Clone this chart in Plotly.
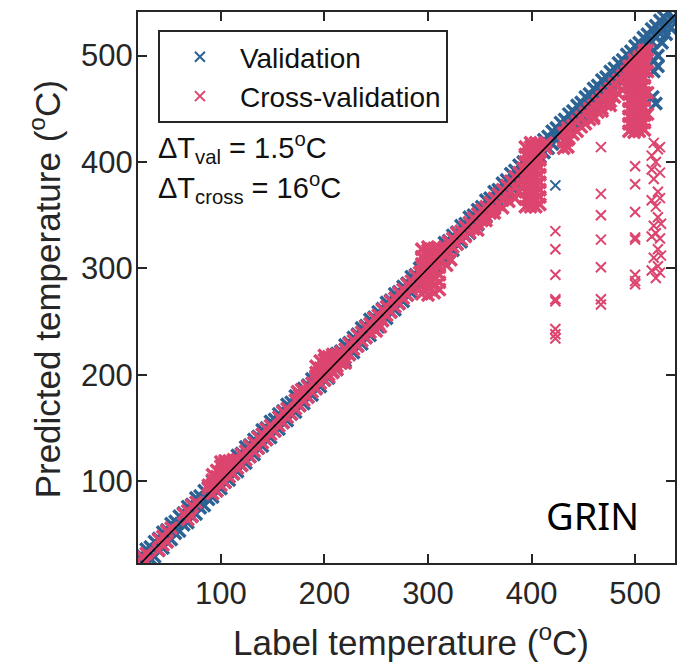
import plotly.graph_objects as go

# ---------------- data (label temperature -> predicted temperatures, °C) ----------------
# Validation: dense band along the diagonal
val_band = {
    20: [28, 13], 28: [36, 21], 36: [43, 29], 44: [52, 37], 52: [60, 45],
    60: [67, 53], 68: [76, 61], 76: [84, 69], 84: [91, 77], 92: [100, 85],
    100: [108, 93], 108: [115, 101], 116: [124, 109], 124: [132, 117], 132: [139, 125],
    140: [148, 133], 148: [156, 141], 156: [163, 149], 164: [172, 157], 172: [180, 165],
    180: [187, 173], 188: [196, 181], 196: [204, 189], 204: [211, 197], 212: [220, 205],
    220: [228, 213], 228: [235, 221], 236: [244, 229], 244: [252, 237], 252: [259, 245],
    260: [268, 253], 268: [276, 261], 276: [283, 269], 284: [292, 277], 292: [300, 285],
    300: [307, 293], 308: [316, 301], 316: [324, 309], 324: [331, 317], 332: [340, 325],
    340: [348, 333], 348: [355, 341], 356: [364, 349], 364: [372, 357], 372: [380, 366],
    380: [389, 377], 388: [397, 385], 396: [405, 393], 404: [413, 401], 412: [421, 409],
    420: [429, 417], 428: [437, 425], 436: [445, 433], 444: [453, 441], 452: [461, 449],
    460: [469, 457], 468: [477, 465], 476: [485, 473], 484: [493, 481], 492: [501, 489],
    500: [509, 497], 508: [517, 505], 516: [525, 513], 524: [533, 521], 532: [541, 529],
    538: [546, 535],
}
val_band_mid = {
    24: [30, 19], 32: [38, 27], 40: [46, 35], 48: [54, 43], 56: [62, 51],
    64: [70, 59], 72: [78, 67], 80: [86, 75], 88: [94, 83], 96: [102, 91],
    104: [110, 99], 112: [118, 107], 120: [126, 115], 128: [134, 123], 136: [142, 131],
    144: [150, 139], 152: [158, 147], 160: [166, 155], 168: [174, 163], 176: [182, 171],
    184: [190, 179], 192: [198, 187], 200: [206, 195], 208: [214, 203], 216: [222, 211],
    224: [230, 219], 232: [238, 227], 240: [246, 235], 248: [254, 243], 256: [262, 251],
    264: [270, 259], 272: [278, 267], 280: [286, 275], 288: [294, 283], 296: [302, 291],
    304: [310, 299], 312: [318, 307], 320: [326, 315], 328: [334, 323], 336: [342, 331],
    344: [350, 339], 352: [358, 347], 360: [366, 355], 368: [374, 363], 376: [383, 372],
    384: [392, 381], 392: [400, 389], 400: [408, 397], 408: [416, 405], 416: [424, 413],
    424: [432, 421], 432: [440, 429], 440: [448, 437], 448: [456, 445], 456: [464, 453],
    464: [472, 461], 472: [480, 469], 480: [488, 477], 488: [496, 485], 496: [504, 493],
    504: [512, 501], 512: [520, 509], 520: [528, 517], 528: [536, 525], 536: [544, 533],
}
val_top_right = {
    517: [461], 518: [505, 495, 485], 520: [455], 522: [500, 490],
    526: [512], 530: [520], 534: [526],
}
val_single = {423: [378]}

# Cross-validation: band along the diagonal
cv_band = {
    24: [29, 19], 40: [45, 35], 48: [53, 43], 64: [69], 72: [77, 67], 88: [93],
    96: [101, 91],
    104: [109, 99], 112: [117, 107], 120: [125, 115], 128: [133, 123], 136: [141, 131],
    144: [149, 139], 152: [147], 160: [165, 155], 168: [163], 176: [181, 171],
    184: [189, 179], 192: [197, 187], 200: [205, 195], 208: [213, 203], 216: [221, 211],
    224: [229, 219], 232: [237, 227], 240: [245, 235], 248: [253, 243], 256: [261, 251],
    264: [269, 259], 272: [277, 267], 280: [285, 275], 288: [293, 283], 296: [301, 291],
    304: [309, 299], 312: [317, 307], 320: [325, 315], 328: [333, 323], 336: [339, 330],
    344: [347, 337], 352: [355, 345], 360: [362, 352], 368: [370, 360], 376: [378, 368],
    384: [386, 376], 392: [394, 386], 400: [402, 394], 408: [410, 402],
    432: [427, 419], 440: [434, 426], 448: [442, 433], 456: [450, 440], 464: [457, 447],
    472: [465, 454], 480: [473, 461], 488: [481, 468], 496: [489, 476], 504: [497, 484],
    510: [503, 492],
}
cv_band_mid = {
    28: [32, 24], 44: [48, 40], 52: [56], 68: [72, 64], 76: [80], 92: [96, 88],
    100: [104, 96],
    108: [112, 104], 116: [120, 112], 124: [128, 120], 132: [136, 128], 140: [144, 136],
    148: [152, 144], 156: [160, 152], 164: [168, 160], 172: [176, 168], 180: [184, 176],
    188: [192, 184], 196: [200, 192], 204: [208, 200], 212: [216, 208], 220: [224, 216],
    228: [232, 224], 236: [240, 232], 244: [248, 240], 252: [256, 248], 260: [264, 256],
    268: [272, 264], 276: [280, 272], 284: [288, 280], 292: [296, 288], 300: [304, 296],
    308: [312, 304], 316: [320, 312], 324: [328, 320], 332: [335, 327], 340: [343, 334],
    348: [351, 342], 356: [358, 348], 364: [366, 356], 372: [374, 364], 380: [382, 372],
    388: [390, 382], 396: [398, 390], 404: [406, 398],
    436: [430, 422], 444: [438, 429], 452: [446, 436], 460: [453, 443], 468: [461, 450],
    476: [469, 457], 484: [477, 464], 492: [485, 472], 500: [493, 480], 508: [501, 488],
}
# Cross-validation: excursions off the diagonal
cv_bumps = {
    88: [96], 92: [101, 106], 96: [104, 110], 100: [108, 114, 118], 104: [110, 116, 119],
    108: [114, 119], 112: [117, 120], 116: [120],
    174: [184], 178: [186],
    192: [202, 208], 196: [206, 213], 200: [208, 214, 218], 204: [198, 211, 217],
    208: [202, 214, 219], 212: [205, 217, 219], 216: [218], 220: [211],
    250: [241], 254: [245],
    348: [336], 356: [345], 364: [352], 372: [357], 378: [363], 384: [366], 388: [372],
    460: [441], 468: [448], 476: [453],
}
cv_blob_300 = {
    294: [276, 283, 290, 297, 304, 311, 318],
    300: [275, 282, 289, 296, 303, 310, 317, 320],
    306: [277, 284, 291, 298, 305, 312, 319],
    311: [280, 287, 294, 301, 308, 315, 319],
    318: [303, 318], 322: [308, 322],
}
cv_blob_400 = {
    394: [358, 365, 372, 379, 386, 393, 400, 407, 414],
    399: [358, 365, 372, 379, 386, 393, 400, 407, 414, 418],
    404: [358, 365, 372, 379, 386, 393, 400, 407, 414, 418],
    408: [360, 367, 374, 381, 388, 395, 402, 409, 416],
    414: [413, 418],
}
cv_blob_430 = {
    431: [413, 420, 427],
    435: [414, 421, 428, 432],
}
cv_blob_500 = {
    494: [429, 436, 443, 450, 457, 464, 471, 478, 485, 490],
    499: [428, 435, 442, 449, 456, 463, 470, 477, 484, 491, 496],
    504: [429, 436, 443, 450, 457, 464, 471, 478, 485, 492, 499],
    509: [430, 437, 444, 451, 458, 465, 472, 479, 486, 493, 500, 505],
    512: [445, 465, 485, 505],
}
cv_outliers = {
    423: [335, 318, 294, 271, 269, 243, 238, 234],
    467: [414, 370, 350, 327, 301, 271, 266],
    500: [396, 379, 353, 329, 327, 294, 288, 285],
    516: [406, 393, 364, 330, 298],
    518: [418, 384, 340, 310],
    520: [400, 358, 333, 291],
    522: [412, 372, 348, 318, 302],
    524: [414, 390, 366, 328, 296],
    525: [342, 312],
}

tick_vals = [100, 200, 300, 400, 500]
x_range = [20, 538.5]
y_range = [23, 541]


def flatten(*groups):
    xs, ys = [], []
    for g in groups:
        for label, preds in g.items():
            for p in preds:
                xs.append(label)
                ys.append(p)
    return xs, ys


vb_x, vb_y = flatten(val_band, val_band_mid, val_top_right)
vs_x, vs_y = flatten(val_single)
cb_x, cb_y = flatten(cv_band, cv_band_mid, cv_bumps, cv_blob_300, cv_blob_400,
                     cv_blob_430, cv_blob_500)
cs_x, cs_y = flatten(cv_outliers)

BLUE = "#2C6394"
PINK = "#DC456E"
AX = "#262626"
FONT = "Liberation Sans, Arial, sans-serif"


def mk(color, size, width):
    return dict(symbol="x-thin", size=size, color=color, line=dict(width=width, color=color))


fig = go.Figure()
fig.add_trace(go.Scatter(x=vb_x, y=vb_y, mode="markers", name="Validation",
                         legendgroup="val", showlegend=False, marker=mk(BLUE, 12, 3.5)))
fig.add_trace(go.Scatter(x=vs_x, y=vs_y, mode="markers", name="Validation",
                         legendgroup="val", marker=mk(BLUE, 10, 2)))
fig.add_trace(go.Scatter(x=cb_x, y=cb_y, mode="markers", name="Cross-validation",
                         legendgroup="cv", showlegend=False, marker=mk(PINK, 12, 3.5)))
fig.add_trace(go.Scatter(x=cs_x, y=cs_y, mode="markers", name="Cross-validation",
                         legendgroup="cv", marker=mk(PINK, 10, 2)))
fig.add_trace(go.Scatter(
    x=[x_range[0], 545], y=[x_range[0], 545], mode="lines",
    line=dict(color="black", width=1.5), showlegend=False, hoverinfo="skip",
))

L, R, T, B = 138, 7, 12, 108
W, H = 684, 671
pw, ph = W - L - R, H - T - B


def px(xp):
    return (xp - L) / pw


def py(yp):
    return (H - B - yp) / ph


axis_common = dict(
    showgrid=False, zeroline=False, showline=True, linewidth=2, linecolor=AX,
    mirror="ticks", ticks="inside", ticklen=9, tickwidth=1.5, tickcolor=AX,
    tickvals=tick_vals, tickfont=dict(family=FONT, size=31, color=AX),
)

fig.update_layout(
    width=W, height=H, autosize=False,
    margin=dict(l=L, r=R, t=T, b=B),
    paper_bgcolor="white", plot_bgcolor="white",
    xaxis=dict(range=x_range, ticklabelstandoff=2, **axis_common),
    yaxis=dict(range=y_range, ticklabelstandoff=-3, **axis_common),
    showlegend=True,
    legend=dict(
        x=px(158), y=py(30), xanchor="left", yanchor="top",
        bgcolor="white", bordercolor=AX, borderwidth=2,
        font=dict(family=FONT, size=28, color="#111111"),
        itemwidth=70, tracegroupgap=0,
    ),
    annotations=[
        dict(text="Label temperature (<sup>o</sup>C)", x=px(412), y=py(640),
             xref="paper", yref="paper", showarrow=False, xanchor="center", yanchor="middle",
             font=dict(family=FONT, size=35, color=AX)),
        dict(text="Predicted temperature (<sup>o</sup>C)", x=px(45), y=py(289),
             xref="paper", yref="paper", showarrow=False, xanchor="center", yanchor="middle",
             textangle=-90, font=dict(family=FONT, size=35, color=AX)),
        dict(text="ΔT<sub>val</sub> = 1.5<sup>o</sup>C", x=px(156), y=py(148),
             xref="paper", yref="paper", showarrow=False, xanchor="left", yanchor="middle",
             font=dict(family=FONT, size=29, color="#111111")),
        dict(text="ΔT<sub>cross</sub> = 16<sup>o</sup>C", x=px(156), y=py(188),
             xref="paper", yref="paper", showarrow=False, xanchor="left", yanchor="middle",
             font=dict(family=FONT, size=29, color="#111111")),
        dict(text="GRIN", x=px(594), y=py(515),
             xref="paper", yref="paper", showarrow=False, xanchor="center", yanchor="middle",
             font=dict(family="Noto Sans, Open Sans, sans-serif", size=38, color="black")),
    ],
)

fig.write_html("out.html")
